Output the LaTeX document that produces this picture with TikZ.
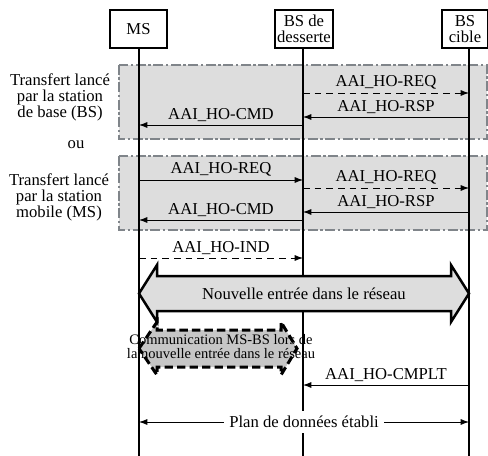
\documentclass[tikz,border=0pt]{standalone}
\usepackage{fontspec}
\setmainfont{Liberation Serif}
\usetikzlibrary{arrows.meta, calc}

\definecolor{boxgray}{RGB}{221,221,221}
\definecolor{edgegray}{RGB}{128,133,138}

\begin{document}
\begin{tikzpicture}[x=0.6pt, y=-0.6pt, font=\fontsize{10}{9.6}\selectfont,
	actor/.style = {draw, line width=1.2pt, minimum height=22.8pt, align=center, inner sep=1pt},
	life/.style = {line width=1.2pt},
	msg/.style = {-{Latex[length=5pt, width=3.6pt]}, line width=0.5pt},
	msgdash/.style = {msg, dash pattern=on 4pt off 3pt},
	lbl/.style = {above=1pt, inner sep=1pt},
	phase/.style = {fill=boxgray, draw=edgegray, line width=1.3pt, dash pattern=on 6pt off 1.5pt on 1.5pt off 1.5pt}]
	\useasboundingbox (0, 0) rectangle (488, 456);
	% phases
	\draw[phase] (119, 65) rectangle (487, 139);
	\draw[phase] (119, 156) rectangle (487, 230);
	\node[align=center] (bsinit) at (60, 97) {Transfert lancé\\par la station\\de base (BS)};
	\node (ou) at (76, 145) {ou};
	\node[align=center] (msinit) at (59, 197) {Transfert lancé\\par la station\\mobile (MS)};
	% entities and lifelines
	\node[actor, minimum width=34.2pt] (ms) at (138.5, 29) {MS};
	\node[actor, minimum width=33.6pt] (bsd) at (304, 29) {BS de\\desserte};
	\node[actor, minimum width=27.6pt] (bsc) at (465, 29) {BS\\cible};
	\coordinate (xms) at (139, 456);
	\coordinate (xbsd) at (303, 456);
	\coordinate (xbsc) at (469, 456);
	\draw[life] (ms.south -| xms) -- (xms);
	\draw[life] (bsd.south -| xbsd) -- (xbsd);
	\draw[life] (bsc.south -| xbsc) -- (xbsc);
	% handover initiated by the BS
	\draw[msgdash] (xbsd |- 0, 93) -- node[lbl] {AAI\_HO-REQ} (xbsc |- 0, 93);
	\draw[msg] (xbsc |- 0, 117) -- node[lbl] {AAI\_HO-RSP} (xbsd |- 0, 117);
	\draw[msg] (xbsd |- 0, 125) -- node[lbl] {AAI\_HO-CMD} (xms |- 0, 125);
	% handover initiated by the MS
	\draw[msg] (xms |- 0, 180) -- node[lbl] {AAI\_HO-REQ} (xbsd |- 0, 180);
	\draw[msgdash] (xbsd |- 0, 188) -- node[lbl] {AAI\_HO-REQ} (xbsc |- 0, 188);
	\draw[msg] (xbsc |- 0, 212) -- node[lbl] {AAI\_HO-RSP} (xbsd |- 0, 212);
	\draw[msg] (xbsd |- 0, 220) -- node[lbl] {AAI\_HO-CMD} (xms |- 0, 220);
	\draw[msgdash] (xms |- 0, 258) -- node[lbl] {AAI\_HO-IND} (xbsd |- 0, 258);
	% network re-entry
	\draw[line width=1.5pt, fill=boxgray, line join=miter] (139, 293.5) -- (157, 265) -- (157, 276) -- (451, 276) -- (451, 265) -- (469, 293.5) -- (451, 322) -- (451, 311) -- (157, 311) -- (157, 322) -- cycle;
	\node (entree) at (304, 294) {Nouvelle entrée dans le réseau};
	\draw[line width=1.8pt, dash pattern=on 5pt off 2.5pt, fill=gray!45] (139, 348.5) -- (157, 322) -- (157, 330) -- (281, 330) -- (281, 322) -- (297, 348.5) -- (281, 375) -- (281, 367) -- (157, 367) -- (157, 375) -- cycle;
	\node[align=center, font=\fontsize{8.7}{8.4}\selectfont] (comm) at (221, 347) {Communication MS-BS lors de\\la nouvelle entrée dans le réseau};
	\draw[msg] (xbsc |- 0, 385) -- node[lbl] {AAI\_HO-CMPLT} (xbsd |- 0, 385);
	\draw[{Latex[length=5pt, width=3.6pt]}-{Latex[length=5pt, width=3.6pt]}, line width=0.5pt] (xms |- 0, 422) -- node[midway, fill=white, inner sep=3pt] (plan) {Plan de données établi} (xbsc |- 0, 422);
\end{tikzpicture}
\end{document}
